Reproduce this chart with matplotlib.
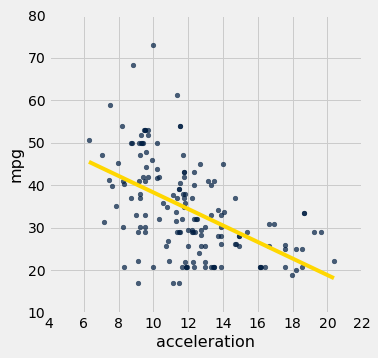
import numpy as np
import matplotlib
matplotlib.use("Agg")
import matplotlib.pyplot as plt

# acceleration / mpg values
acceleration = [6.29, 7.04, 7.15, 7.5, 7.44, 7.61, 7.84, 7.94, 8.19, 8.22,
                8.3, 8.24, 8.3, 8.69, 8.69, 8.78, 8.82, 9.0, 9.1, 9.1,
                9.1, 9.16, 9.28, 9.36, 9.41, 9.3, 9.22, 9.16, 9.22, 9.22,
                9.22, 9.4, 9.47, 9.53, 9.53, 9.53, 9.5, 9.5, 9.5, 9.57,
                9.57, 9.68, 9.68, 9.68, 9.91, 9.97, 9.97, 10.2, 10.2, 10.2,
                10.3, 10.3, 10.55, 10.72, 10.83, 10.78, 10.9, 11.12, 11.12, 11.3,
                11.3, 11.35, 11.35, 11.35, 11.47, 11.52, 11.47, 11.47, 11.52, 11.52,
                11.52, 11.47, 11.64, 11.64, 11.7, 11.7, 11.75, 11.75, 11.75, 11.75,
                11.75, 11.81, 11.81, 11.81, 11.87, 11.9, 11.87, 11.99, 11.99, 12.2,
                12.2, 12.2, 12.3, 12.36, 12.25, 12.33, 12.33, 12.33, 12.33, 12.45,
                12.5, 12.6, 12.67, 12.73, 12.73, 12.73, 12.96, 12.96, 12.96, 12.96,
                13.13, 13.3, 13.3, 13.3, 13.42, 13.47, 13.47, 13.48, 13.71, 13.71,
                13.88, 13.88, 13.88, 13.88, 13.88, 14.0, 14.06, 14.69, 14.7, 14.75,
                14.9, 14.9, 14.9, 15.38, 16.13, 16.13, 16.19, 16.41, 16.64, 16.93,
                16.64, 17.57, 17.57, 17.57, 17.97, 18.2, 18.2, 18.54, 18.54, 18.66,
                18.66, 19.23, 19.64, 20.38]
mpg = [50.7, 47.0, 31.25, 58.9, 41.3, 39.9, 35.2, 45.3, 54.0, 41.1,
       40.4, 30.1, 20.9, 37.0, 50.0, 50.0, 68.3, 32.9, 28.9, 22.3,
       16.95, 50.0, 50.0, 50.0, 50.0, 51.8, 47.0, 41.1, 38.0, 36.9,
       30.1, 42.0, 53.0, 53.0, 53.0, 41.1, 32.9, 30.1, 28.9, 47.9,
       44.4, 53.0, 51.8, 42.0, 46.0, 73.0, 20.9, 50.0, 43.9, 41.8,
       42.0, 31.95, 35.9, 25.8, 27.0, 35.0, 22.3, 37.6, 17.0, 33.6,
       31.7, 61.25, 36.9, 28.9, 28.9, 28.9, 39.0, 39.0, 54.0, 54.0,
       40.5, 17.0, 32.0, 20.9, 47.0, 38.0, 43.0, 43.0, 42.0, 36.9,
       35.0, 38.0, 35.9, 21.95, 20.9, 20.9, 20.9, 29.4, 25.8, 36.9,
       29.4, 28.9, 28.9, 28.9, 21.9, 43.0, 40.0, 32.0, 20.9, 32.0,
       32.0, 24.0, 45.1, 29.4, 28.2, 25.8, 30.1, 25.8, 21.9, 20.9,
       41.1, 40.0, 32.9, 20.9, 20.9, 20.9, 20.9, 41.1, 34.1, 28.0,
       32.9, 30.1, 28.0, 26.3, 20.9, 45.1, 33.6, 36.9, 26.1, 26.1,
       28.0, 28.0, 25.8, 28.9, 20.9, 20.9, 20.9, 20.9, 31.0, 31.0,
       25.8, 25.9, 24.9, 20.9, 18.8, 24.9, 20.0, 24.9, 20.9, 33.5,
       33.5, 28.9, 28.9, 22.1]

x_ticks = [4, 6, 8, 10, 12, 14, 16, 18, 20, 22]
y_ticks = [10, 20, 30, 40, 50, 60, 70, 80]

plt.style.use("fivethirtyeight")
plt.rcParams["font.family"] = ["DejaVu Sans"]

fig = plt.figure(figsize=(378 / 72, 358 / 72), dpi=72)
ax = fig.add_axes([0.13, 0.126, 0.828, 0.832])

x = np.array(acceleration)
y = np.array(mpg)
ax.scatter(x, y, s=22, color=(0.0, 30 / 256, 66 / 256), alpha=0.7, zorder=3)

# least squares fit line over the data range
slope, intercept = np.polyfit(x, y, 1)
xs = np.array([x.min(), x.max()])
ax.plot(xs, slope * xs + intercept, color="gold", lw=4, zorder=4)

ax.set_xlim(4, 22)
ax.set_ylim(10, 80)
ax.set_xticks(x_ticks)
ax.set_yticks(y_ticks)
ax.tick_params(labelsize=14, pad=4)
ax.set_xlabel("acceleration", fontsize=16)
ax.set_ylabel("mpg", fontsize=16)

fig.savefig("out.png", dpi=72, facecolor=fig.get_facecolor())
